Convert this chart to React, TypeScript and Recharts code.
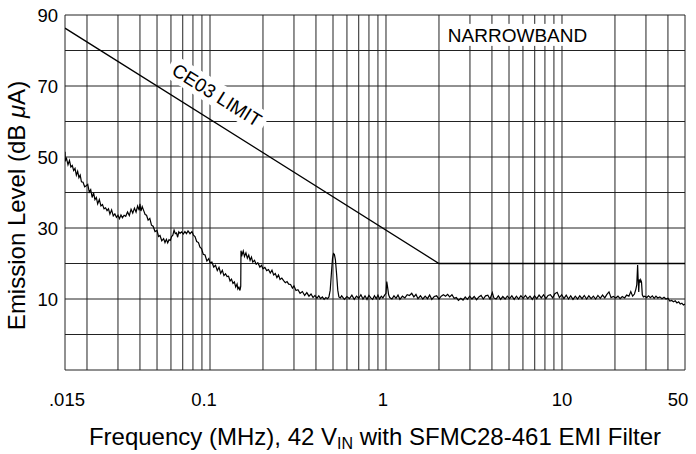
import React from 'react';
import { LineChart, Line, XAxis, YAxis, ReferenceLine, ReferenceDot, Label } from 'recharts';

// ---- tick labels ----
const X_TICKS = [0.015, 0.1, 1, 10, 50];
const X_TICK_LABELS = ['.015', '0.1', '1', '10', '50'];
const Y_TICKS = [10, 30, 50, 70, 90];

// ---- grid ----
const GRID_FREQS = [
  0.015, 0.02, 0.03, 0.04, 0.05, 0.06, 0.07, 0.08, 0.09,
  0.1, 0.2, 0.3, 0.4, 0.5, 0.6, 0.7, 0.8, 0.9,
  1, 2, 3, 4, 5, 6, 7, 8, 9,
  10, 20, 30, 40, 50,
];
const GRID_LEVELS = [-10, 0, 10, 20, 30, 40, 50, 60, 70, 80, 90];

// ---- CE03 limit ----
const LIMIT_FREQ = [0.015, 2, 50];
const LIMIT_LEVEL = [86.3, 20, 20];

// ---- emission trace (MHz, dB uA) ----
const EMI_FREQ = [
  0.015, 0.01505, 0.0153, 0.0156, 0.0159, 0.0162, 0.0165, 0.0168, 0.0171, 0.0174,
  0.0177, 0.018, 0.0183, 0.0186, 0.019, 0.0194, 0.0198, 0.0202, 0.0206, 0.021,
  0.0214, 0.0218, 0.0222, 0.0226, 0.023, 0.0235, 0.024, 0.0245, 0.025, 0.0255,
  0.026, 0.0265, 0.027, 0.0276, 0.0282, 0.0288, 0.0294, 0.03, 0.0306, 0.0312,
  0.0318, 0.0325, 0.0332, 0.034, 0.0348, 0.0356, 0.0364, 0.0372, 0.038, 0.0388,
  0.0396, 0.04, 0.0405, 0.0412, 0.042, 0.0428, 0.0436, 0.0445, 0.0455, 0.0465,
  0.0475, 0.0487, 0.05, 0.051, 0.052, 0.0532, 0.0545, 0.0555, 0.0565, 0.0575,
  0.0585, 0.0595, 0.0605, 0.0615, 0.0625, 0.0635, 0.0645, 0.0655, 0.0665, 0.0676,
  0.069, 0.0705, 0.072, 0.0735, 0.075, 0.077, 0.079, 0.0805, 0.0822, 0.084,
  0.086, 0.0877, 0.0895, 0.0915, 0.0937, 0.096, 0.0985, 0.1,
  0.1025, 0.105, 0.1075, 0.11, 0.1125, 0.115, 0.1175, 0.12, 0.1225, 0.125,
  0.1275, 0.13, 0.1325, 0.135, 0.1375, 0.14, 0.1425, 0.144, 0.146, 0.148,
  0.1495, 0.15, 0.152, 0.1545, 0.157, 0.16, 0.163, 0.166, 0.169, 0.172,
  0.175, 0.179, 0.183, 0.187, 0.192, 0.196, 0.2, 0.205, 0.21, 0.215,
  0.22, 0.225, 0.23, 0.235, 0.24, 0.245, 0.25, 0.256, 0.262, 0.268,
  0.274, 0.28, 0.287, 0.294, 0.3, 0.308, 0.316, 0.325, 0.335, 0.345,
  0.355, 0.365, 0.375, 0.385, 0.395, 0.405, 0.415, 0.425, 0.435, 0.445,
  0.455, 0.465, 0.474, 0.482, 0.49, 0.497, 0.503, 0.509, 0.516, 0.524,
  0.532, 0.54, 0.55,
  0.56, 0.58, 0.6, 0.62, 0.64, 0.66, 0.68, 0.7, 0.72, 0.74,
  0.76, 0.78, 0.8, 0.82, 0.84, 0.86, 0.88, 0.9, 0.92, 0.94,
  0.96, 0.98, 1.0, 1.01, 1.02, 1.035, 1.05, 1.08, 1.11, 1.14,
  1.17, 1.2, 1.24, 1.28, 1.32, 1.36, 1.4, 1.44, 1.48, 1.52,
  1.57, 1.62, 1.67, 1.72, 1.77, 1.82, 1.88, 1.94, 2.0, 2.06,
  2.12, 2.18, 2.24, 2.3, 2.37, 2.44, 2.51, 2.58, 2.66, 2.74,
  2.82, 2.9, 2.99, 3.08, 3.17, 3.27, 3.37, 3.47, 3.57, 3.68,
  3.79, 3.9, 4.02, 4.1, 4.22, 4.35, 4.48, 4.61, 4.75, 4.89,
  5.04, 5.19, 5.35, 5.51, 5.67, 5.84, 6.02, 6.2, 6.39, 6.58,
  6.78, 6.98, 7.19, 7.41, 7.63, 7.86, 8.1, 8.34, 8.59, 8.85,
  9.11, 9.39, 9.67, 9.96, 10.26, 10.57, 10.89, 11.21, 11.55, 11.9,
  12.26, 12.62, 13.0, 13.39, 13.8, 14.21, 14.64, 15.08, 15.53, 16.0,
  16.5, 17.0, 17.5, 18.0, 18.5, 19.0, 19.6, 20.2, 20.8, 21.4,
  22.0, 22.7, 23.3, 24.0, 24.6, 25.2, 25.8, 26.3, 26.6, 26.9,
  27.1, 27.3, 27.5, 27.8, 28.0, 28.3, 28.6, 29.0, 29.6, 30.3,
  31.0, 31.8, 32.6, 33.4, 34.2, 35.0, 36.0, 37.0, 38.0, 39.0,
  40.0, 41.0, 42.0, 43.0, 44.0, 45.0, 46.0, 47.0, 48.0, 49.0,
  50.0,
];
const EMI_LEVEL = [
  51.5, 49.0, 49.6, 47.8, 49.0, 47.2, 47.6, 46.2, 46.8, 44.9,
  46.0, 44.2, 44.9, 43.0, 42.9, 41.6, 41.9, 42.3, 40.1, 40.8,
  38.6, 39.9, 38.0, 38.6, 36.8, 38.0, 36.2, 36.6, 35.4, 35.7,
  34.9, 35.4, 33.9, 35.1, 33.4, 34.0, 33.0, 33.6, 32.6, 33.7,
  32.9, 33.6, 33.3, 34.5, 33.5, 35.3, 34.2, 35.6, 34.5, 36.2,
  35.0, 36.8, 34.8, 36.0, 34.9, 33.8, 33.6, 32.2, 32.7, 30.8,
  30.5, 29.0, 29.3, 27.6, 27.9, 26.4, 27.0, 25.9, 26.8, 25.8,
  26.7, 26.5, 27.6, 28.0, 29.4, 28.4, 28.6, 27.4, 28.9, 28.5,
  28.9, 28.3, 29.0, 28.4, 29.2, 28.4, 29.0, 28.0, 27.6, 26.2,
  25.9, 24.6, 24.2, 22.6, 22.4, 20.7, 21.4, 20.2,
  20.4, 19.0, 19.5, 18.0, 18.9, 17.2, 18.1, 16.6, 17.1, 16.3,
  16.4, 15.1, 15.6, 14.4, 14.8, 13.4, 14.2, 12.8, 13.3, 12.4,
  13.6, 23.6, 22.4, 23.5, 22.0, 23.0, 21.5, 22.4, 20.9, 21.8,
  20.4, 20.9, 19.8, 20.2, 19.0, 19.5, 18.5, 18.9, 18.0, 18.3,
  17.3, 18.1, 16.8, 17.2, 16.0, 16.8, 15.5, 15.9, 15.2, 14.6,
  14.9, 14.2, 14.1, 13.1, 13.7, 12.4, 12.6, 11.6, 12.1, 11.0,
  11.8, 10.8, 11.4, 10.4, 11.0, 10.2, 10.9, 10.1, 10.6, 9.9,
  10.4, 10.1, 10.6, 12.5, 17.5, 21.5, 22.8, 22.6, 21.0, 17.0,
  12.5, 10.6, 10.3,
  10.9, 9.9, 10.7, 10.1, 11.1, 9.9, 10.8, 10.2, 11.2, 10.0,
  10.9, 9.9, 11.0, 10.3, 9.9, 10.9, 10.1, 11.1, 10.0, 10.8,
  10.3, 11.0, 11.6, 14.9, 13.5, 11.2, 10.4, 10.0, 10.9, 10.2,
  11.1, 9.9, 10.8, 10.3, 11.2, 11.0, 11.6, 10.6, 11.3, 10.1,
  10.9, 10.0, 10.8, 10.1, 11.1, 9.9, 10.7, 10.9, 10.0, 10.8,
  11.2, 10.8, 11.3, 10.6, 11.2, 10.2, 10.4, 9.6, 10.2, 9.7,
  10.6, 9.9, 10.8, 10.0, 10.7, 9.8, 10.6, 11.0, 10.0, 10.9,
  11.1, 10.0, 11.8, 10.3, 10.0, 10.9, 9.9, 10.7, 10.0, 10.8,
  10.1, 10.9, 9.9, 10.8, 10.0, 10.9, 10.2, 11.0, 10.1, 10.8,
  9.9, 10.9, 10.1, 11.1, 10.3, 11.2, 10.1, 11.0, 11.2, 10.3,
  11.5, 11.9, 10.4, 11.2, 10.1, 11.1, 10.0, 10.9, 9.9, 10.8,
  10.0, 10.9, 10.1, 11.0, 10.0, 10.9, 10.1, 10.8, 10.0, 11.0,
  10.2, 11.1, 10.3, 11.3, 12.0, 10.4, 10.7, 10.3, 10.8, 10.1,
  10.7, 10.3, 11.1, 10.8, 12.1, 10.8, 11.4, 12.8, 14.0, 19.6,
  15.2, 12.0, 15.5, 14.6, 15.4, 14.8, 11.2, 10.6, 10.8, 10.4,
  10.9, 10.4, 10.9, 10.2, 10.8, 10.3, 10.6, 10.1, 10.5, 10.0,
  10.2, 9.4, 9.6, 9.2, 9.5, 8.9, 9.2, 8.6, 8.8, 8.3,
  8.6,
];

const emissionData = EMI_FREQ.map((f, i) => ({ f, v: EMI_LEVEL[i] }));
const limitData = LIMIT_FREQ.map((f, i) => ({ f, v: LIMIT_LEVEL[i] }));

const FONT = '"Liberation Sans", Arial, Helvetica, sans-serif';
const GRID_COLOR = '#222';
const X_TICK_DX = [2, -6, -3, 0, -7];

const XTick = (props: any) => {
  const { x, y, payload } = props;
  const idx = X_TICKS.indexOf(payload.value);
  return (
    <text x={x + (X_TICK_DX[idx] || 0)} y={y} dy="0.35em" textAnchor="middle"
      fontSize={18.5} fontFamily={FONT} fill="#000">
      {X_TICK_LABELS[idx]}
    </text>
  );
};

const YTick = (props: any) => {
  const { x, y, payload } = props;
  return (
    <text x={x} y={y} dy="0.36em" textAnchor="end" fontSize={18.5} fontFamily={FONT} fill="#000">
      {payload.value}
    </text>
  );
};

const CeLabel = (props: any) => {
  const { cx, cy } = props;
  return (
    <g transform={`translate(${cx},${cy}) rotate(32)`}>
      <rect x={-56} y={-12} width={112} height={24} fill="#fff" />
      <text x={0} y={0} dy="0.36em" textAnchor="middle" fontSize={19} fontFamily={FONT} fill="#000">
        CE03 LIMIT
      </text>
    </g>
  );
};

const NbLabel = (props: any) => {
  const { cx, cy } = props;
  return (
    <g>
      <rect x={cx - 75} y={cy - 11} width={150} height={22} fill="#fff" />
      <text x={cx} y={cy} dy="0.36em" textAnchor="middle" fontSize={19} fontFamily={FONT} fill="#000">
        NARROWBAND
      </text>
    </g>
  );
};

const XTitle = (props: any) => {
  const { viewBox } = props;
  const cx = viewBox.x + viewBox.width / 2;
  return (
    <text x={cx} y={viewBox.y + 75} textAnchor="middle" fontSize={24} fontFamily={FONT} fill="#000">
      Frequency (MHz), 42 V<tspan fontSize={16} dy={4}>IN</tspan>
      <tspan dy={-4}> with SFMC28-461 EMI Filter</tspan>
    </text>
  );
};

const YTitle = (props: any) => {
  const { viewBox } = props;
  const cy = viewBox.y + viewBox.height / 2 + 13;
  return (
    <text x={0} y={0} transform={`translate(25,${cy}) rotate(-90)`} textAnchor="middle"
      fontSize={24} fontFamily={FONT} fill="#000">
      Emission Level (dB <tspan fontStyle="italic">μ</tspan>A)
    </text>
  );
};

export default function App() {
  return (
    <div style={{ position: 'absolute', left: 0, top: 0, width: 696, height: 454, background: '#fff' }}>
      <LineChart width={696} height={454} margin={{ top: 15, right: 11, left: 0, bottom: 0 }}>
        <XAxis dataKey="f" type="number" scale="log" domain={[0.015, 50]} allowDataOverflow
          ticks={X_TICKS} tick={<XTick />} tickLine={false} axisLine={false}
          tickSize={0} tickMargin={30} height={84} interval={0}>
          <Label content={<XTitle />} />
        </XAxis>
        <YAxis type="number" domain={[-10, 90]} ticks={Y_TICKS} tick={<YTick />} allowDataOverflow
          tickLine={false} axisLine={false} tickSize={0} tickMargin={7} width={65} interval={0}>
          <Label content={<YTitle />} />
        </YAxis>
        {GRID_LEVELS.map((v) => (
          <ReferenceLine key={'h' + v} y={v} stroke={GRID_COLOR} strokeWidth={1} />
        ))}
        {GRID_FREQS.map((f) => (
          <ReferenceLine key={'v' + f} x={f} stroke={GRID_COLOR} strokeWidth={1} />
        ))}
        <ReferenceDot x={0.1096} y={67.5} r={1} shape={<CeLabel />} />
        <ReferenceDot x={5.59} y={84.4} r={1} shape={<NbLabel />} />
        <Line data={limitData} dataKey="v" type="linear" dot={false} stroke="#000"
          strokeWidth={1.3} isAnimationActive={false} />
        <Line data={emissionData} dataKey="v" type="linear" dot={false} stroke="#000"
          strokeWidth={1.2} isAnimationActive={false} />
      </LineChart>
    </div>
  );
}
